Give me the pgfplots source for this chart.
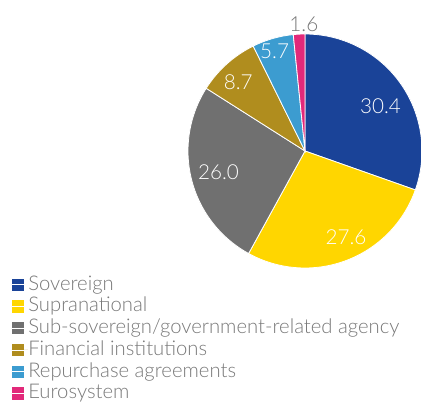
\documentclass[border=0pt]{standalone}
\usepackage{pgfplots}
\pgfplotsset{compat=1.18}
\usepackage{fontspec}
\setmainfont{Lato Light}
\definecolor{cSov}{RGB}{26,67,152}
\definecolor{cSup}{RGB}{255,214,0}
\definecolor{cSub}{RGB}{112,112,112}
\definecolor{cFin}{RGB}{176,141,30}
\definecolor{cRep}{RGB}{60,156,208}
\definecolor{cEur}{RGB}{226,41,122}
\definecolor{txt}{RGB}{120,120,120}
% shares (per cent)
\def\vA{30.4}\def\vB{27.6}\def\vC{26.0}\def\vD{8.7}\def\vE{5.7}\def\vF{1.6}
\pgfmathsetmacro\aA{90}
\pgfmathsetmacro\aB{\aA-3.6*\vA}
\pgfmathsetmacro\aC{\aB-3.6*\vB}
\pgfmathsetmacro\aD{\aC-3.6*\vC}
\pgfmathsetmacro\aE{\aD-3.6*\vD}
\pgfmathsetmacro\aF{\aE-3.6*\vE}
\pgfmathsetmacro\aG{\aF-3.6*\vF}
\begin{document}
\begin{tikzpicture}
\clip (0pt,0pt) rectangle (315.75pt,301.5pt);
\begin{axis}[
  at={(228.75pt,188.25pt)}, anchor=center,
  width=175.5pt, height=175.5pt, scale only axis,
  xmin=-1, xmax=1, ymin=-1, ymax=1,
  axis lines=none, clip=false,
  legend cell align=left,
  legend style={at={(-0.756,-0.025)}, anchor=north west, draw=none, fill=none,
    inner sep=0pt, outer sep=0pt, row sep=0pt, font=\fontsize{15.2pt}{16pt}\selectfont,
    text=txt,
    nodes={inner xsep=0pt, inner ysep=0.3pt, text height=12pt, text depth=3.7pt}},
  legend image code/.code={\fill[#1, draw=none] (0pt,-4.6pt) rectangle (9.2pt,4.6pt); \path (0pt,0pt) -- (12.3pt,0pt);},
]
\addplot[fill=cSov, draw=white, line width=0.6pt, domain=\aB:\aA, samples=80, variable=\t] ({cos(\t)},{sin(\t)}) -- (axis cs:0,0) -- cycle;
\addplot[fill=cSup, draw=white, line width=0.6pt, domain=\aC:\aB, samples=80, variable=\t] ({cos(\t)},{sin(\t)}) -- (axis cs:0,0) -- cycle;
\addplot[fill=cSub, draw=white, line width=0.6pt, domain=\aD:\aC, samples=80, variable=\t] ({cos(\t)},{sin(\t)}) -- (axis cs:0,0) -- cycle;
\addplot[fill=cFin, draw=white, line width=0.6pt, domain=\aE:\aD, samples=30, variable=\t] ({cos(\t)},{sin(\t)}) -- (axis cs:0,0) -- cycle;
\addplot[fill=cRep, draw=white, line width=0.6pt, domain=\aF:\aE, samples=20, variable=\t] ({cos(\t)},{sin(\t)}) -- (axis cs:0,0) -- cycle;
\addplot[fill=cEur, draw=white, line width=0.6pt, domain=\aG:\aF, samples=10, variable=\t] ({cos(\t)},{sin(\t)}) -- (axis cs:0,0) -- cycle;
\legend{Sovereign, Supranational, Sub-sovereign/government-related agency, Financial institutions, Repurchase agreements, Eurosystem}
\begin{scope}[every node/.style={font=\fontsize{15.5pt}{18pt}\selectfont, text=white}]
\node at (axis cs:0.645,0.385) {30.4};
\node at (axis cs:0.35,-0.74) {27.6};
\node at (axis cs:-0.74,-0.18) {26.0};
\node at (axis cs:-0.57,0.59) {8.7};
\node at (axis cs:-0.26,0.85) {5.7};
\node[text=txt] at (axis cs:-0.01,1.085) {1.6};
\end{scope}
\end{axis}
\end{tikzpicture}
\end{document}
